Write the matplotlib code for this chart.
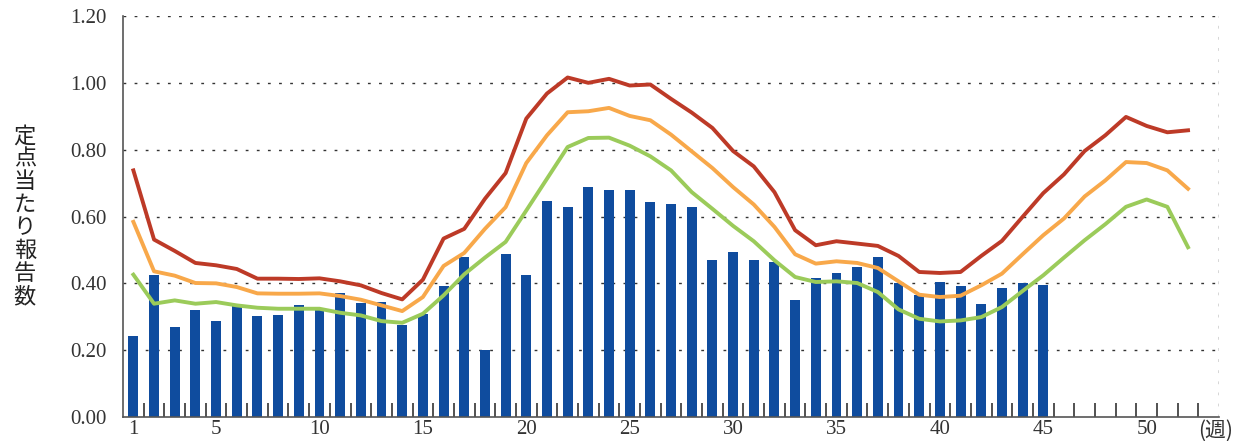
import matplotlib
matplotlib.use("Agg")
import matplotlib.pyplot as plt
import numpy as np
from matplotlib.ticker import FixedLocator

weeks_bar = list(range(1, 46))
weeks_line = list(range(1, 53))

reports = [0.241, 0.424, 0.268, 0.319, 0.286, 0.332, 0.301, 0.304, 0.334, 0.325,
           0.370, 0.340, 0.343, 0.274, 0.309, 0.392, 0.478, 0.202, 0.487, 0.424,
           0.645, 0.627, 0.687, 0.678, 0.678, 0.642, 0.636, 0.627, 0.469, 0.493,
           0.469, 0.463, 0.349, 0.415, 0.430, 0.448, 0.478, 0.400, 0.364, 0.403,
           0.391, 0.337, 0.385, 0.400, 0.394]

red_line = [0.738, 0.531, 0.497, 0.461, 0.454, 0.443, 0.414, 0.414, 0.413, 0.415,
            0.406, 0.394, 0.371, 0.352, 0.411, 0.534, 0.563, 0.653, 0.730, 0.893,
            0.968, 1.016, 1.000, 1.012, 0.992, 0.995, 0.952, 0.911, 0.865, 0.796,
            0.750, 0.673, 0.559, 0.514, 0.526, 0.519, 0.512, 0.482, 0.434, 0.431,
            0.434, 0.482, 0.527, 0.599, 0.670, 0.726, 0.796, 0.843, 0.898, 0.871,
            0.852, 0.858]

orange_line = [0.584, 0.436, 0.423, 0.401, 0.400, 0.389, 0.370, 0.369, 0.369, 0.370,
               0.362, 0.351, 0.334, 0.317, 0.359, 0.452, 0.491, 0.563, 0.628, 0.760,
               0.843, 0.912, 0.915, 0.925, 0.901, 0.888, 0.845, 0.795, 0.745, 0.688,
               0.636, 0.569, 0.487, 0.459, 0.466, 0.461, 0.446, 0.406, 0.366, 0.359,
               0.363, 0.394, 0.429, 0.487, 0.544, 0.594, 0.660, 0.708, 0.763, 0.760,
               0.738, 0.683]

green_line = [0.426, 0.339, 0.349, 0.339, 0.344, 0.334, 0.327, 0.324, 0.324, 0.324,
              0.312, 0.304, 0.287, 0.282, 0.309, 0.364, 0.427, 0.477, 0.524, 0.618,
              0.713, 0.808, 0.835, 0.836, 0.812, 0.780, 0.738, 0.673, 0.623, 0.572,
              0.526, 0.469, 0.419, 0.404, 0.406, 0.401, 0.374, 0.322, 0.294, 0.286,
              0.289, 0.299, 0.329, 0.377, 0.424, 0.477, 0.529, 0.577, 0.629, 0.651,
              0.629, 0.508]

x_ticks = [1, 5, 10, 15, 20, 25, 30, 35, 40, 45, 50]
y_ticks = [0.0, 0.2, 0.4, 0.6, 0.8, 1.0, 1.2]
y_label = "定点当たり報告数"
x_unit = "(週)"

fig = plt.figure(figsize=(12.39, 4.41), dpi=100)
ax = fig.add_axes([0.0993, 0.0544, 0.8846, 0.9093])

ax.set_xlim(0.5, 53.5)
ax.set_ylim(0, 1.2)

for y in y_ticks[1:]:
    ax.axhline(y, color="#333333", lw=1.0, ls=(0, (2, 6)), zorder=0)
ax.axvline(53.5, color="#333333", lw=1.0, ls=(0, (2, 6)), zorder=0)

ax.bar(weeks_bar, reports, width=0.48, color="#0F4C9E", zorder=2)
ax.plot(weeks_line, green_line, color="#9BCB5A", lw=2.8, zorder=3)
ax.plot(weeks_line, orange_line, color="#F8A84A", lw=2.8, zorder=3)
ax.plot(weeks_line, red_line, color="#BD3A27", lw=2.8, zorder=3)

for s in ["top", "right"]:
    ax.spines[s].set_visible(False)
ax.spines["left"].set_color("#555555")
ax.spines["bottom"].set_color("#555555")
ax.spines["left"].set_linewidth(1.2)
ax.spines["bottom"].set_linewidth(1.2)

ax.set_yticks(y_ticks)
ax.set_yticklabels([f"{v:.2f}" for v in y_ticks], fontfamily="Liberation Serif",
                   fontsize=15, color="#333333")
ax.set_xticks(x_ticks)
ax.set_xticklabels([str(v) for v in x_ticks], fontfamily="Liberation Serif",
                   fontsize=15, color="#333333")
ax.tick_params(axis="y", length=0, pad=12)
ax.tick_params(axis="x", which="major", length=0, pad=2)
ax.xaxis.set_minor_locator(FixedLocator(np.arange(1.5, 53.5, 1.0)))
ax.tick_params(axis="x", which="minor", direction="in", length=10, width=1.2,
               color="#333333")

fig.text(0.020, 0.51, "\n".join(y_label), fontfamily="Noto Sans CJK JP",
         fontsize=16, ha="center", va="center", linespacing=1.0, color="#222222")
fig.text(1198 / 1239, 1 - 431 / 441, x_unit, fontfamily="Noto Sans CJK JP",
         fontsize=15, ha="left", va="center", color="#333333")

fig.savefig("out.png", dpi=100)
